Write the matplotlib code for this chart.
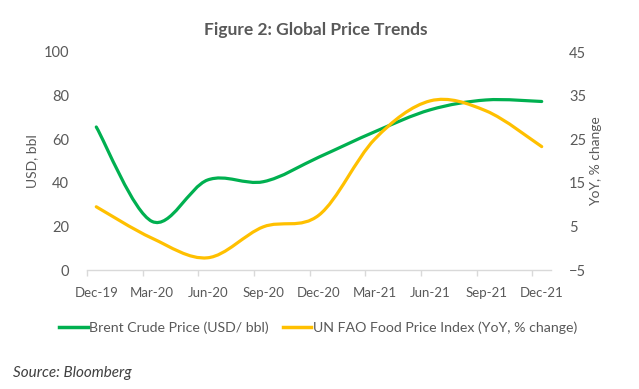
import matplotlib
matplotlib.use("Agg")
import matplotlib.pyplot as plt
import numpy as np
from matplotlib.path import Path
from matplotlib.patches import PathPatch
from matplotlib.lines import Line2D

plt.rcParams['font.family'] = ['Lato', 'DejaVu Sans']

months = [0, 3, 6, 9, 12, 15, 18, 21, 24]
labels = ["Dec-19", "Mar-20", "Jun-20", "Sep-20", "Dec-20", "Mar-21", "Jun-21", "Sep-21", "Dec-21"]
brent = [65.6, 22.3, 41.3, 40.5, 51.8, 63.4, 73.5, 78.0, 77.3]
fao = [9.5, 2.3, -2.2, 4.9, 7.6, 25.0, 33.8, 31.5, 23.3]

GREEN = "#00B050"
YELLOW = "#FFC000"
GRAY = "#595959"


def smooth_path(x, y):
    p = np.column_stack([x, y]).astype(float)
    n = len(p)
    verts = [p[0]]
    codes = [Path.MOVETO]
    for i in range(n - 1):
        p0 = p[i - 1] if i > 0 else p[i]
        p1 = p[i]
        p2 = p[i + 1]
        p3 = p[i + 2] if i + 2 < n else p[i + 1]
        c1 = p1 + (p2 - p0) / 6.0
        c2 = p2 - (p3 - p1) / 6.0
        verts += [c1, c2, p2]
        codes += [Path.CURVE4] * 3
    return Path(verts, codes)


fig = plt.figure(figsize=(6.39, 3.89), dpi=100)
ax = fig.add_axes([87 / 639, 1 - 270 / 389, (551 - 87) / 639, (270 - 52) / 389])
ax2 = ax.twinx()

ax.set_xlim(-0.5, 24.5)
ax.set_ylim(0, 100)
ax2.set_ylim(-5, 45)

ax.add_patch(PathPatch(smooth_path(months, brent), facecolor='none', edgecolor=GREEN,
                       lw=2.3, capstyle='round', joinstyle='round'))
ax2.add_patch(PathPatch(smooth_path(months, fao), facecolor='none', edgecolor=YELLOW,
                        lw=2.3, capstyle='round', joinstyle='round'))

for a in (ax, ax2):
    for s in ['top', 'left', 'right', 'bottom']:
        a.spines[s].set_visible(False)
ax.spines['bottom'].set_visible(True)
ax.spines['bottom'].set_color('#D9D9D9')
ax.spines['bottom'].set_linewidth(1.0)

ax.set_yticks([0, 20, 40, 60, 80, 100])
ax2.set_yticks([-5, 5, 15, 25, 35, 45])
ax.tick_params(axis='y', length=0, labelsize=10.5, labelcolor=GRAY, pad=13)
ax2.tick_params(axis='y', length=0, labelsize=10.5, labelcolor=GRAY, pad=13)

ax.set_xticks(months)
ax.set_xticklabels(labels)
ax.set_xticks(np.arange(-0.5, 25, 3), minor=True)
ax.tick_params(axis='x', which='major', length=0, labelsize=9.5, labelcolor=GRAY, pad=12)
ax.tick_params(axis='x', which='minor', length=4, color='#D9D9D9', width=1)

ax.set_ylabel("USD, bbl", fontsize=10, color=GRAY, labelpad=4)
ax2.set_ylabel("YoY, % change", fontsize=10, color=GRAY, labelpad=3)

fig.text(316 / 639, 1 - 30 / 389, "Figure 2: Global Price Trends", ha='center', va='center',
         fontsize=12.5, fontweight='bold', color=GRAY)

handles = [Line2D([], [], color=GREEN, lw=2.5), Line2D([], [], color=YELLOW, lw=2.5)]
fig.legend(handles, ["Brent Crude Price (USD/ bbl)", "UN FAO Food Price Index (YoY, % change)"],
           loc='center', bbox_to_anchor=(318 / 639, 1 - 328 / 389), ncol=2, frameon=False,
           fontsize=10.2, labelcolor=GRAY, handlelength=2.0, handletextpad=0.1, columnspacing=1.0)

fig.text(13 / 639, 1 - 373 / 389, "Source: Bloomberg", ha='left', va='center',
         fontsize=11, style='italic', color='#404040')

fig.savefig("out.png", dpi=100)
